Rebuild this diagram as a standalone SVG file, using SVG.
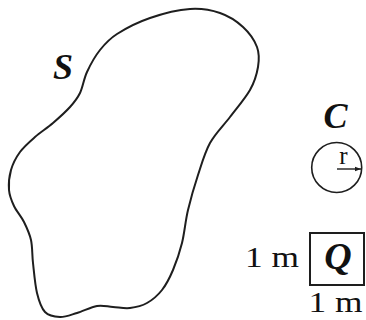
<svg xmlns="http://www.w3.org/2000/svg" width="366" height="320" viewBox="0 0 366 320">
<style>
.ln{fill:none;stroke:#1e1e1e;stroke-width:2;stroke-linejoin:round;stroke-linecap:round}
.lbl{font-family:"Liberation Serif","Times New Roman",serif;font-weight:bold;font-style:italic;fill:#111}
.txt{font-family:"Liberation Serif","Times New Roman",serif;fill:#111}
</style>
<defs>
<marker id="ah" viewBox="0 0 6 6" refX="6" refY="3" markerWidth="6" markerHeight="6" markerUnits="userSpaceOnUse" orient="auto">
<path d="M0,0.8 L6,3 L0,5.2 Z" fill="#1e1e1e"/>
</marker>
</defs>
<rect width="366" height="320" fill="#fff"/>
<g id="S">
<path class="ln" d="M87,72 C90.3,64.8 95,56.3 100,50 C105,43.7 108.7,39.3 117,34 C125.3,28.7 137.8,22.2 150,18 C162.2,13.8 178.3,9.8 190,9 C201.7,8.2 211.2,10 220,13 C228.8,16 236.8,21.3 243,27 C249.2,32.7 254.5,40.3 257,47 C259.5,53.7 259.2,59.8 258,67 C256.8,74.2 254.7,81.7 250,90 C245.3,98.3 236.7,108.2 230,117 C223.3,125.8 215.3,133.3 210,143 C204.7,152.7 201.7,163.8 198,175 C194.3,186.2 190.7,198.7 188,210 C185.3,221.3 184.5,233 182,243 C179.5,253 176.3,262.2 173,270 C169.7,277.8 166.3,284.5 162,290 C157.7,295.5 152.3,300 147,303 C141.7,306 135.7,307.3 130,308 C124.3,308.7 118.5,307.3 113,307 C107.5,306.7 103,305 97,306 C91,307 83.2,311.2 77,313 C70.8,314.8 65.3,317.2 60,317 C54.7,316.8 48.8,316 45,312 C41.2,308 39,301.2 37,293 C35,284.8 34,271.8 33,263 C32,254.2 32.5,246.8 31,240 C29.5,233.2 26.8,227.7 24,222 C21.2,216.3 16.5,211.3 14,206 C11.5,200.7 9.5,196 9,190 C8.5,184 9.2,176.3 11,170 C12.8,163.7 16,157.5 20,152 C24,146.5 29.5,141.8 35,137 C40.5,132.2 47.2,128 53,123 C58.8,118 65.5,112 70,107 C74.5,102 77.2,98.8 80,93 C82.8,87.2 83.7,79.2 87,72 Z"/>
<text class="lbl" x="63" y="79" font-size="36" text-anchor="middle">S</text>
</g>
<g id="C">
<text class="lbl" x="335.5" y="128" font-size="36" text-anchor="middle">C</text>
<circle cx="336.7" cy="167.5" r="25" fill="none" stroke="#1e1e1e" stroke-width="1.6"/>
<text class="txt" x="343.5" y="164" font-size="25" text-anchor="middle">r</text>
</g>
<g id="Q">
<rect x="310" y="233" width="54" height="52" fill="none" stroke="#1e1e1e" stroke-width="2"/>
<text class="lbl" x="338" y="269" font-size="38" text-anchor="middle">Q</text>
<text class="txt" x="245" y="267" font-size="30" textLength="54" lengthAdjust="spacingAndGlyphs">1 m</text>
<text class="txt" x="308.5" y="312" font-size="29" textLength="54" lengthAdjust="spacingAndGlyphs">1 m</text>
</g>
<g id="connectors">
<line x1="337" y1="169" x2="361" y2="169" stroke="#1e1e1e" stroke-width="1.4" marker-end="url(#ah)"/>
</g>
</svg>
